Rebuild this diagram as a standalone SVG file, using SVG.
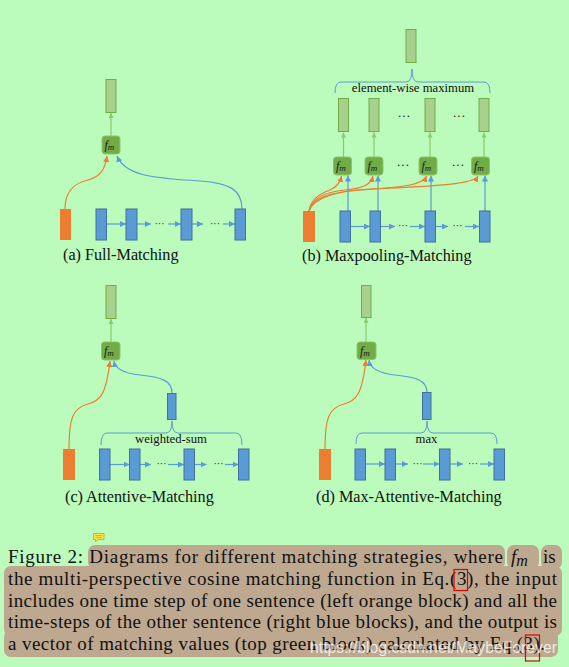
<svg xmlns="http://www.w3.org/2000/svg" width="569" height="667" viewBox="0 0 569 667">
<defs>
<style>
.blk{fill:#5b9bd5;stroke:#41719c;stroke-width:1}
.org{fill:#ed7d31}
.grn{fill:#a9d18e;stroke:#70ad47;stroke-width:1}
.fm{fill:#70ad47;stroke:#8cc46e;stroke-width:1}
.ab{stroke:#5b9bd5;fill:none;stroke-width:1.2;marker-end:url(#mb)}
.ao{stroke:#ed7d31;fill:none;stroke-width:1.2;marker-end:url(#mo)}
.ag{stroke:#8ccb6a;fill:none;stroke-width:1.2;marker-end:url(#mg)}
.br{stroke:#5b9bd5;fill:none;stroke-width:1}
.lbl{font-family:"Liberation Serif",serif;font-size:16.2px;fill:#111}
.sm{font-family:"Liberation Serif",serif;font-size:12.7px;fill:#111;text-anchor:middle}
.fmt{font-family:"Liberation Serif",serif;font-style:italic;font-size:12px;fill:#1a1a1a}
.dot{font-family:"Liberation Serif",serif;font-size:10px;fill:#222;text-anchor:middle}
.dot2{font-family:"Liberation Serif",serif;font-size:13px;fill:#222;text-anchor:middle}
.cap{font-family:"Liberation Serif",serif;font-size:19px;fill:#111}
.hl{fill:#bea88f}
.red{fill:none;stroke:#e00000;stroke-width:1.2}
</style>
<marker id="mb" markerUnits="userSpaceOnUse" markerWidth="8" markerHeight="8" refX="6" refY="3" orient="auto"><path d="M0,0 L6,3 L0,6 z" fill="#5b9bd5"/></marker>
<marker id="mo" markerUnits="userSpaceOnUse" markerWidth="8" markerHeight="8" refX="6" refY="3" orient="auto"><path d="M0,0 L6,3 L0,6 z" fill="#ed7d31"/></marker>
<marker id="mg" markerUnits="userSpaceOnUse" markerWidth="8" markerHeight="8" refX="5" refY="2.5" orient="auto"><path d="M0,0 L5,2.5 L0,5 z" fill="#8ccb6a"/></marker>
</defs>
<rect width="569" height="667" fill="#bbfbbc"/>

<!-- Connectors -->
<g id="connectors">
  <!-- (a) -->
  <path class="ag" d="M111,136 L111,113"/>
  <path class="ao" d="M65,209 C65,190 75,183 88,180 C100,177 105,170 107,156"/>
  <path class="ab" d="M242,209 C242,190 230,183 200,181 C150,178 125,175 117,156"/>
  <path class="ab" d="M107,224 L126,224"/>
  <path class="ab" d="M137,224 L151,224"/>
  <path class="ab" d="M168,224 L181,224"/>
  <path class="ab" d="M192,224 L203,224"/>
  <path class="ab" d="M223,224 L235,224"/>
  <!-- (b) -->
  <path class="br" d="M335,93 Q335,82 341,82 L406,82 Q412,82 412,69 Q412,82 418,82 L484,82 Q490,82 490,93"/>
  <path class="ag" d="M343.5,157 L343.5,132.5"/>
  <path class="ag" d="M374,157 L374,132.5"/>
  <path class="ag" d="M430,157 L430,132.5"/>
  <path class="ag" d="M484,157 L484,132.5"/>
  <path class="ab" d="M348,211 L348,175.5"/>
  <path class="ab" d="M378,211 L378,175.5"/>
  <path class="ab" d="M431,211 L431,175.5"/>
  <path class="ab" d="M485,211 L485,175.5"/>
  <path class="ao" d="M309,211 C311,198 322,193 330,190 C337,187 340,183 341.5,176"/>
  <path class="ao" d="M309,211 C312,198 325,192 345,190 C365,188 371,184 373,176"/>
  <path class="ao" d="M309,211 C313,198 330,192 360,190 C405,187 423,185 426.5,176"/>
  <path class="ao" d="M309,211 C314,198 335,191 370,189 C440,186 474,184 478,176"/>
  <path class="ab" d="M351,226.5 L370,226.5"/>
  <path class="ab" d="M381,226.5 L395,226.5"/>
  <path class="ab" d="M410,226.5 L425,226.5"/>
  <path class="ab" d="M436,226.5 L448,226.5"/>
  <path class="ab" d="M465,226.5 L479,226.5"/>
  <!-- (c) -->
  <path class="ag" d="M111,342 L111,319"/>
  <path class="ao" d="M69,449 C69,420 72,408 88,404 C100,401 106,395 110,361"/>
  <path class="ab" d="M172,393 C172,380 160,377 140,375 C122,373 115,368 114,361"/>
  <path class="br" d="M101,445 Q101,433 107,433 L166,433 Q172,433 172,421 Q172,433 178,433 L236,433 Q242,433 242,445"/>
  <path class="ab" d="M110,464.5 L129.5,464.5"/>
  <path class="ab" d="M140,464.5 L151,464.5"/>
  <path class="ab" d="M168,464.5 L184,464.5"/>
  <path class="ab" d="M194.5,464.5 L206.5,464.5"/>
  <path class="ab" d="M225,464.5 L238.5,464.5"/>
  <!-- (d) -->
  <path class="ag" d="M366,342 L366,318"/>
  <path class="ao" d="M325,449 C325,420 328,408 344,404 C356,401 362,395 366,360"/>
  <path class="ab" d="M427,392 C427,380 415,377 395,375 C377,373 370,368 369,360"/>
  <path class="br" d="M356,444 Q356,433 362,433 L421,433 Q427,433 427,421 Q427,433 433,433 L491,433 Q497,433 497,444"/>
  <path class="ab" d="M366,464 L385,464"/>
  <path class="ab" d="M396,464 L408,464"/>
  <path class="ab" d="M423,464 L439.5,464"/>
  <path class="ab" d="M450,464 L463,464"/>
  <path class="ab" d="M480,464 L494,464"/>
</g>

<!-- Panel (a) -->
<g id="a-out"><rect class="grn" x="106" y="79.5" width="10" height="33"/></g>
<g id="a-fm"><rect class="fm" x="102" y="136" width="18" height="18" rx="3"/><text class="fmt" x="104.5" y="148.5">f<tspan font-size="9" dy="1.5">m</tspan></text></g>
<g id="a-org"><rect class="org" x="60" y="209" width="11" height="31"/></g>
<g id="a-b1"><rect class="blk" x="96" y="209" width="10.5" height="31"/></g>
<g id="a-b2"><rect class="blk" x="126" y="209" width="11" height="31"/></g>
<g id="a-b3"><rect class="blk" x="181" y="209" width="11" height="31"/></g>
<g id="a-b4"><rect class="blk" x="235" y="209" width="10.5" height="31"/></g>
<text class="dot" x="159.5" y="226.5">···</text>
<text class="dot" x="215" y="226.5">···</text>
<text class="lbl" x="63" y="260">(a) Full-Matching</text>

<!-- Panel (b) -->
<g id="b-out"><rect class="grn" x="406" y="29.5" width="10" height="33"/></g>
<text class="sm" x="413" y="91.5">element-wise maximum</text>
<g id="b-g1"><rect class="grn" x="338.5" y="98.5" width="10" height="33"/></g>
<g id="b-g2"><rect class="grn" x="369" y="98.5" width="10" height="33"/></g>
<g id="b-g3"><rect class="grn" x="425" y="98.5" width="10" height="33"/></g>
<g id="b-g4"><rect class="grn" x="479" y="98.5" width="10" height="33"/></g>
<text class="dot2" x="404" y="119.5">···</text>
<text class="dot2" x="459" y="119.5">···</text>
<g id="b-fm1"><rect class="fm" x="333.5" y="157" width="18" height="18" rx="3"/><text class="fmt" x="336" y="169.5">f<tspan font-size="9" dy="1.5">m</tspan></text></g>
<g id="b-fm2"><rect class="fm" x="365" y="157" width="18" height="18" rx="3"/><text class="fmt" x="367.5" y="169.5">f<tspan font-size="9" dy="1.5">m</tspan></text></g>
<g id="b-fm3"><rect class="fm" x="419" y="157" width="18" height="18" rx="3"/><text class="fmt" x="421.5" y="169.5">f<tspan font-size="9" dy="1.5">m</tspan></text></g>
<g id="b-fm4"><rect class="fm" x="471.5" y="157" width="18" height="18" rx="3"/><text class="fmt" x="474" y="169.5">f<tspan font-size="9" dy="1.5">m</tspan></text></g>
<text class="dot2" x="403" y="168.5">···</text>
<text class="dot2" x="458" y="168.5">···</text>
<g id="b-org"><rect class="org" x="303" y="211" width="12" height="31"/></g>
<g id="b-b1"><rect class="blk" x="340" y="211" width="10.5" height="31"/></g>
<g id="b-b2"><rect class="blk" x="370" y="211" width="10.5" height="31"/></g>
<g id="b-b3"><rect class="blk" x="425" y="211" width="10.5" height="31"/></g>
<g id="b-b4"><rect class="blk" x="479.5" y="211" width="10.5" height="31"/></g>
<text class="dot" x="403" y="229">···</text>
<text class="dot" x="457.5" y="229">···</text>
<text class="lbl" x="302" y="260.5">(b) Maxpooling-Matching</text>

<!-- Panel (c) -->
<g id="c-out"><rect class="grn" x="106" y="285.5" width="10" height="33"/></g>
<g id="c-fm"><rect class="fm" x="101.5" y="342" width="18.5" height="18" rx="3"/><text class="fmt" x="104" y="354.5">f<tspan font-size="9" dy="1.5">m</tspan></text></g>
<g id="c-mid"><rect class="blk" x="167.5" y="393.5" width="8.5" height="26"/></g>
<text class="sm" x="171" y="443">weighted-sum</text>
<g id="c-org"><rect class="org" x="63" y="449" width="12" height="31"/></g>
<g id="c-b1"><rect class="blk" x="99.5" y="449" width="10.5" height="31"/></g>
<g id="c-b2"><rect class="blk" x="129.5" y="449" width="10.5" height="31"/></g>
<g id="c-b3"><rect class="blk" x="184" y="449" width="10.5" height="31"/></g>
<g id="c-b4"><rect class="blk" x="238.5" y="449" width="10.5" height="31"/></g>
<text class="dot" x="161.5" y="467">···</text>
<text class="dot" x="218.5" y="467">···</text>
<text class="lbl" x="65" y="502">(c) Attentive-Matching</text>

<!-- Panel (d) -->
<g id="d-out"><rect class="grn" x="361.5" y="285.5" width="9.5" height="32"/></g>
<g id="d-fm"><rect class="fm" x="357" y="342" width="19" height="17.5" rx="3"/><text class="fmt" x="360" y="354.5">f<tspan font-size="9" dy="1.5">m</tspan></text></g>
<g id="d-mid"><rect class="blk" x="422.5" y="392.5" width="8.5" height="27"/></g>
<text class="sm" x="426.5" y="443">max</text>
<g id="d-org"><rect class="org" x="319" y="449" width="12" height="31"/></g>
<g id="d-b1"><rect class="blk" x="355" y="449" width="10.5" height="31"/></g>
<g id="d-b2"><rect class="blk" x="385" y="449" width="10.5" height="31"/></g>
<g id="d-b3"><rect class="blk" x="439.5" y="449" width="10.5" height="31"/></g>
<g id="d-b4"><rect class="blk" x="494" y="449" width="10.5" height="31"/></g>
<text class="dot" x="417.5" y="466.5">···</text>
<text class="dot" x="473" y="466.5">···</text>
<text class="lbl" x="316" y="502">(d) Max-Attentive-Matching</text>

<!-- Caption -->
<g id="caption">
  <rect class="hl" x="88" y="545" width="417" height="24" rx="7"/>
  <rect class="hl" x="507" y="545" width="32" height="24" rx="7"/>
  <rect class="hl" x="541" y="545" width="21" height="24" rx="7"/>
  <rect class="hl" x="4" y="566" width="558" height="70" rx="7"/>
  <rect class="hl" x="4" y="630" width="554" height="27" rx="7"/>
  <g id="note-icon">
    <path d="M93.5,533.5 H104 V539.5 H98 L95.5,541.8 V539.5 H93.5 Z" fill="#ffe94a" stroke="#c9a400" stroke-width="0.8"/>
    <path d="M95.3,535.6 H102.2 M95.3,537.6 H102.2" stroke="#b08d00" stroke-width="0.6"/>
  </g>
  <text class="cap" x="8" y="563" textLength="495" lengthAdjust="spacing">Figure 2: Diagrams for different matching strategies, where</text>
  <text class="cap" x="511" y="563" font-style="italic">f<tspan font-size="16" dy="3">m</tspan></text>
  <text class="cap" x="543" y="563">is</text>
  <text class="cap" x="8" y="585" textLength="549" lengthAdjust="spacing">the multi-perspective cosine matching function in Eq.(3), the input</text>
  <text class="cap" x="8" y="606.5" textLength="549" lengthAdjust="spacing">includes one time step of one sentence (left orange block) and all the</text>
  <text class="cap" x="8" y="628" textLength="549" lengthAdjust="spacing">time-steps of the other sentence (right blue blocks), and the output is</text>
  <text class="cap" x="8" y="649.5" textLength="537" lengthAdjust="spacing">a vector of matching values (top green block) calculated by Eq.(3).</text>
  <rect class="red" x="454" y="569.5" width="13.5" height="21"/>
  <rect class="red" x="525.5" y="635" width="14" height="26"/>
  <text x="310" y="653" font-family="Liberation Sans, sans-serif" font-size="17" fill="#ffffff" fill-opacity="0.75" textLength="247" lengthAdjust="spacingAndGlyphs">https://blog.csdn.net/MaybeForever</text>
</g>
</svg>
